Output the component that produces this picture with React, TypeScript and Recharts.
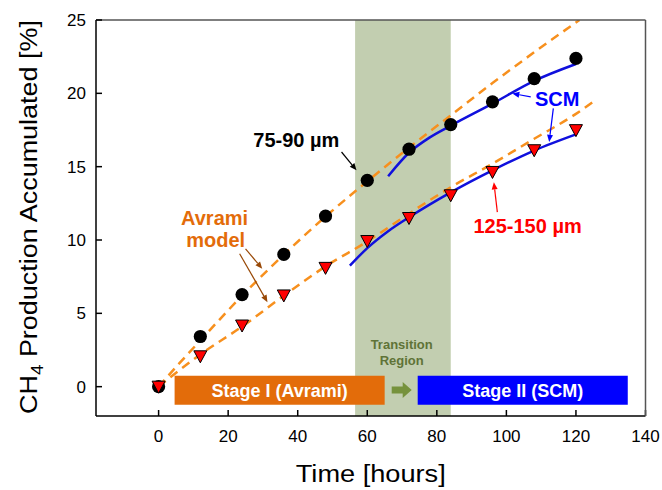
import { ComposedChart, Line, XAxis, YAxis, ReferenceArea, ReferenceLine, ReferenceDot } from "recharts";

// measured points (hours vs CH4 %)
const hours = [0, 12, 24, 36, 48, 60, 72, 84, 96, 108, 120];
const small = [0, 3.42, 6.28, 9.02, 11.63, 14.07, 16.19, 17.87, 19.42, 21.0, 22.38];
const large = [0, 2.07, 4.17, 6.22, 8.1, 9.93, 11.5, 13.05, 14.64, 16.12, 17.49];

// Avrami fits (dashed)
const avramiSmallX = [0, 6, 12, 24, 36, 48, 60, 72, 84, 96, 108, 121];
const avramiSmallY = [0, 1.6, 3.15, 6.2, 9.0, 11.6, 14.0, 16.3, 18.5, 20.7, 22.8, 25.0];
const avramiLargeX = [0, 12, 24, 36, 48, 60, 72, 84, 96, 108, 120, 126];
const avramiLargeY = [0, 2.2, 4.1, 6.2, 8.2, 9.9, 11.8, 13.6, 15.2, 16.9, 18.6, 19.6];

// SCM fits (solid)
const scmSmallX = [66, 72, 78, 84, 96, 108, 120];
const scmSmallY = [14.35, 15.95, 17.0, 17.8, 19.3, 20.85, 22.0];
const scmLargeX = [55, 60, 66, 72, 84, 96, 108, 120];
const scmLargeY = [8.25, 9.45, 10.6, 11.55, 13.25, 14.75, 16.1, 17.2];

const xTicks = [0, 20, 40, 60, 80, 100, 120, 140];
const yTicks = [0, 5, 10, 15, 20, 25];
const xDomain = [-18, 140];
const yDomain = [-2, 25];

const transition = [56.5, 84];
const stageOne = [4.6, 65];
const stageTwo = [74.5, 134.9];
const stageBand = [-1.23, 0.75];

const notes = [
    { text: "75-90 µm", x: 39.6, y: 16.85, color: "#000000" },
    { text: "SCM", x: 114.6, y: 19.6, color: "#0000ff" },
    { text: "125-150 µm", x: 106.1, y: 10.93, color: "#ff0000" },
    { text: "Avrami", x: 16.1, y: 11.5, color: "#e36c0a" },
    { text: "model", x: 16.4, y: 9.97, color: "#e36c0a" },
];

const arrows = [
    { from: [52.6, 16.0], to: [56.9, 14.75], color: "#000000" },
    { from: [107, 19.76], to: [101.7, 19.99], color: "#0000ff" },
    { from: [113.5, 18.97], to: [112.3, 16.69], color: "#0000ff" },
    { from: [97.4, 11.9], to: [96.4, 13.93], color: "#ff0000" },
    { from: [25, 9.4], to: [29.8, 8.04], color: "#984806" },
    { from: [23.3, 9.06], to: [31.3, 5.76], color: "#984806" },
];

const zip = (xs: number[], ys: number[]) => xs.map((x, i) => ({ x, y: ys[i] }));

const FONT = "'Liberation Sans', Arial, sans-serif";

function Circle(p: any) {
    if (p.cx == null || p.cy == null) return null;
    return <circle key={`c${p.index}`} cx={p.cx} cy={p.cy} r={6.6} fill="#000" />;
}

function Triangle(p: any) {
    if (p.cx == null || p.cy == null) return null;
    const { cx, cy } = p;
    return (
        <polygon
            key={`t${p.index}`}
            points={`${cx - 6.5},${cy - 5.5} ${cx + 6.5},${cy - 5.5} ${cx},${cy + 6.5}`}
            fill="#ff0000" stroke="#000" strokeWidth={1} />
    );
}

const makeArrow = (color: string) => (p: any) => {
    const { x1, y1, x2, y2 } = p;
    const a = Math.atan2(y2 - y1, x2 - x1);
    const c = Math.cos(a), s = Math.sin(a);
    const bx = x2 - 7 * c, by = y2 - 7 * s;
    return (
        <g>
            <line x1={x1} y1={y1} x2={bx} y2={by} stroke={color} strokeWidth={1.2} />
            <polygon
                points={`${x2},${y2} ${bx - 3 * s},${by + 3 * c} ${bx + 3 * s},${by - 3 * c}`}
                fill={color} />
        </g>
    );
};

const makeNote = (text: string, color: string, size = 20) => (p: any) => (
    <text x={p.cx} y={p.cy} textAnchor="middle" dominantBaseline="central"
        fill={color} fontSize={size} fontWeight="bold" fontFamily={FONT}>
        {text}
    </text>
);

const GreenArrow = (p: any) => {
    const { cx, cy } = p;
    return (
        <polygon
            points={`${cx - 10},${cy - 3.5} ${cx + 1},${cy - 3.5} ${cx + 1},${cy - 8} ${cx + 10},${cy} ${cx + 1},${cy + 8} ${cx + 1},${cy + 3.5} ${cx - 10},${cy + 3.5}`}
            fill="#76923c" />
    );
};

const TransitionText = (p: any) => (
    <text x={p.cx} y={p.cy} textAnchor="middle" fill="#5f7337" fontSize={13} fontWeight="bold" fontFamily={FONT}>
        <tspan x={p.cx} dy={-4}>Transition</tspan>
        <tspan x={p.cx} dy={16}>Region</tspan>
    </text>
);

const YTitle = (props: any) => {
    const vb = props.viewBox;
    const x = vb.x + vb.width - 59;
    const y = vb.y + vb.height / 2 - 1;
    return (
        <text x={x} y={y} transform={`rotate(-90 ${x} ${y})`} textAnchor="middle"
            fontSize={23} fill="#000" fontFamily={FONT}
            textLength={394} lengthAdjust="spacingAndGlyphs">
            <tspan>CH</tspan>
            <tspan fontSize={16} dy={6}>4</tspan>
            <tspan dy={-6}> Production Accumulated [%]</tspan>
        </text>
    );
};

const XTitle = (props: any) => {
    const vb = props.viewBox;
    return (
        <text x={vb.x + vb.width / 2} y={vb.y + 66} textAnchor="middle"
            fontSize={23} fill="#000" fontFamily={FONT}
            textLength={150} lengthAdjust="spacingAndGlyphs">
            Time [hours]
        </text>
    );
};

export default function App() {
    return (
        <div style={{ position: "absolute", left: 0, top: 0, background: "#fff" }}>
            <ComposedChart
                width={662} height={490}
                margin={{ top: 19, right: 15.5, bottom: 44, left: 56 }}
                style={{ fontFamily: FONT }}
            >
                <XAxis
                    type="number" dataKey="x" domain={xDomain} ticks={xTicks}
                    allowDataOverflow height={30}
                    stroke="#000" strokeWidth={1.5}
                    tickSize={-6} tickMargin={20}
                    tick={{ fontSize: 17, fill: "#000" }}
                    label={XTitle} />
                <XAxis
                    xAxisId="top" orientation="top" type="number" domain={xDomain}
                    allowDataOverflow height={1} tick={false} tickLine={false}
                    stroke="#555" strokeWidth={1.5} />
                <YAxis
                    type="number" domain={yDomain} ticks={yTicks}
                    allowDataOverflow width={40}
                    stroke="#000" strokeWidth={1.5}
                    tickSize={-6} tickMargin={16}
                    tick={{ fontSize: 17, fill: "#000" }}
                    label={YTitle} />
                <YAxis
                    yAxisId="right" orientation="right" type="number" domain={yDomain}
                    allowDataOverflow width={1} tick={false} tickLine={false}
                    stroke="#555" strokeWidth={1.5} />

                <ReferenceArea x1={transition[0]} x2={transition[1]} fill="#c2ceb0" fillOpacity={1} stroke="none" />

                <ReferenceArea x1={stageOne[0]} x2={stageOne[1]} y1={stageBand[0]} y2={stageBand[1]}
                    fill="#e36c0a" fillOpacity={1} stroke="none"
                    label={{ value: "Stage I (Avrami)", position: "center", fill: "#fff", fontSize: 18, fontWeight: "bold" }} />
                <ReferenceArea x1={stageTwo[0]} x2={stageTwo[1]} y1={stageBand[0]} y2={stageBand[1]}
                    fill="#0000ff" fillOpacity={1} stroke="none"
                    label={{ value: "Stage II (SCM)", position: "center", fill: "#fff", fontSize: 18, fontWeight: "bold" }} />
                <ReferenceDot x={69.9} y={-0.23} shape={GreenArrow} />
                <ReferenceDot x={69.9} y={2.3} shape={TransitionText} />

                <Line data={zip(avramiSmallX, avramiSmallY)} dataKey="y" type="monotone"
                    stroke="#f7901e" strokeWidth={2.5} strokeDasharray="9 6" dot={false} isAnimationActive={false} />
                <Line data={zip(avramiLargeX, avramiLargeY)} dataKey="y" type="monotone"
                    stroke="#f7901e" strokeWidth={2.5} strokeDasharray="9 6" dot={false} isAnimationActive={false} />
                <Line data={zip(scmSmallX, scmSmallY)} dataKey="y" type="monotone"
                    stroke="#1010dd" strokeWidth={2.5} dot={false} isAnimationActive={false} />
                <Line data={zip(scmLargeX, scmLargeY)} dataKey="y" type="monotone"
                    stroke="#1010dd" strokeWidth={2.5} dot={false} isAnimationActive={false} />
                <Line data={zip(hours, small)} dataKey="y" stroke="none"
                    dot={Circle} activeDot={false} isAnimationActive={false} />
                <Line data={zip(hours, large)} dataKey="y" stroke="none"
                    dot={Triangle} activeDot={false} isAnimationActive={false} />

                {arrows.map((a, i) => (
                    <ReferenceLine key={`a${i}`}
                        segment={[{ x: a.from[0], y: a.from[1] }, { x: a.to[0], y: a.to[1] }]}
                        shape={makeArrow(a.color)} />
                ))}
                {notes.map((n, i) => (
                    <ReferenceDot key={`n${i}`} x={n.x} y={n.y} shape={makeNote(n.text, n.color)} />
                ))}
            </ComposedChart>
        </div>
    );
}
